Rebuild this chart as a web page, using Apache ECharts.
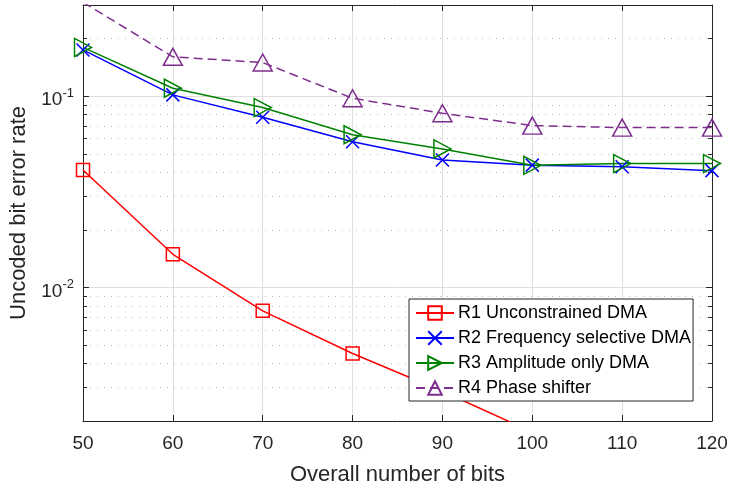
<!DOCTYPE html>
<html>
<head>
<meta charset="utf-8">
<script src="https://cdn.jsdelivr.net/npm/echarts@6/dist/echarts.min.js"></script>
<style>
  html, body { margin: 0; padding: 0; background: #fff; }
  #chart { width: 730px; height: 481px; }
</style>
</head>
<body>
<div id="chart"></div>
<script>
// Overall number of bits on the horizontal axis
const bits = [50, 60, 70, 80, 90, 100, 110, 120];

// Uncoded bit error rate for each configuration
const r1Unconstrained = [0.0411, 0.0149, 0.00754, 0.00451, 0.00286, 0.00175, null, null];
const r2FreqSelective = [0.1746, 0.1016, 0.0776, 0.0578, 0.0464, 0.0436, 0.0428, 0.0408];
const r3AmplitudeOnly = [0.180, 0.110, 0.0872, 0.0629, 0.0530, 0.0435, 0.0444, 0.0444];
const r4PhaseShifter = [0.31, 0.1607, 0.150, 0.0976, 0.0814, 0.0702, 0.0685, 0.0685];

const seriesNames = [
  'R1 Unconstrained DMA',
  'R2 Frequency selective DMA',
  'R3 Amplitude only DMA',
  'R4 Phase shifter'
];

// Log-axis range and tick positions
const yMin = 0.002;
const yMax = 0.3;
const majorTicks = [0.01, 0.1];
const minorTicks = [0.003, 0.004, 0.005, 0.006, 0.007, 0.008, 0.009,
                    0.02, 0.03, 0.04, 0.05, 0.06, 0.07, 0.08, 0.09, 0.2];

const FONT = '"Liberation Sans", Arial, Helvetica, sans-serif';
const AXIS_COLOR = '#262626';
const GRID_COLOR = '#dedede';
const MINOR_COLOR = '#bdbdbd';

const pair = arr => bits.map((b, i) => [b, arr[i]]);

const SYM_X = 'path://M0,0L10,10M10,0L0,10';
const SYM_RIGHT = 'path://M0,0L10,5L0,10Z';
const SYM_UP = 'path://M5,0L10,10L0,10Z';

function lineSeries(name, data, color, symbol, size, dashed) {
  return {
    name: name,
    type: 'line',
    data: pair(data),
    clip: true,
    connectNulls: false,
    symbol: symbol,
    symbolSize: size,
    showAllSymbol: true,
    itemStyle: { color: 'rgba(255,255,255,0)', borderColor: color, borderWidth: 1.5 },
    lineStyle: { color: color, width: 1.5, type: dashed ? [9, 5] : 'solid' },
    emphasis: { disabled: true },
    animation: false,
    z: 3
  };
}

const baseY = {
  type: 'log',
  logBase: 10,
  min: yMin,
  max: yMax,
  axisLine: { show: false },
  axisLabel: { show: false },
  splitLine: { show: false },
  minorTick: { show: false },
  minorSplitLine: { show: false }
};

const chart = echarts.init(document.getElementById('chart'), null, { renderer: 'canvas' });

chart.setOption({
  backgroundColor: '#ffffff',
  animation: false,
  textStyle: { fontFamily: FONT },
  grid: { left: 83, right: 18, top: 5, bottom: 60, containLabel: false, outerBoundsMode: 'none' },
  legend: {
    data: seriesNames,
    orient: 'vertical',
    left: 409,
    top: 299,
    padding: [5, 2, 4, 6],
    itemGap: 7,
    itemWidth: 38,
    itemHeight: 17,
    backgroundColor: '#ffffff',
    borderColor: AXIS_COLOR,
    borderWidth: 1,
    borderRadius: 0,
    textStyle: { fontFamily: FONT, fontSize: 18, color: '#000000', padding: [0, 0, 0, -1] }
  },
  xAxis: [
    {
      type: 'value',
      min: 50,
      max: 120,
      interval: 10,
      position: 'bottom',
      name: 'Overall number of bits',
      nameLocation: 'middle',
      nameGap: 43,
      nameTextStyle: { fontFamily: FONT, fontSize: 22, color: AXIS_COLOR },
      axisLine: { show: true, onZero: false, lineStyle: { color: AXIS_COLOR, width: 1 } },
      axisTick: { show: true, inside: true, length: 6, lineStyle: { color: AXIS_COLOR } },
      axisLabel: { fontFamily: FONT, fontSize: 19, color: AXIS_COLOR, margin: 13 },
      splitLine: { show: true, lineStyle: { color: GRID_COLOR, width: 1 } }
    },
    {
      type: 'value',
      min: 50,
      max: 120,
      interval: 10,
      position: 'top',
      axisLine: { show: true, onZero: false, lineStyle: { color: AXIS_COLOR, width: 1 } },
      axisTick: { show: true, inside: true, length: 6, lineStyle: { color: AXIS_COLOR } },
      axisLabel: { show: false },
      splitLine: { show: false }
    }
  ],
  yAxis: [
    Object.assign({}, baseY, {
      position: 'left',
      name: 'Uncoded bit error rate',
      nameLocation: 'middle',
      nameGap: 53,
      nameTextStyle: { fontFamily: FONT, fontSize: 22, color: AXIS_COLOR },
      axisLine: { show: true, onZero: false, lineStyle: { color: AXIS_COLOR, width: 1 } },
      axisTick: { show: true, inside: true, length: 6, customValues: majorTicks, lineStyle: { color: AXIS_COLOR } },
      axisLabel: {
        show: true,
        customValues: majorTicks,
        margin: 9,
        fontFamily: FONT,
        fontSize: 19,
        color: AXIS_COLOR,
        formatter: v => '{b|10}{s|' + Math.round(Math.log10(v)) + '}',
        rich: {
          b: { fontFamily: FONT, fontSize: 19, color: AXIS_COLOR, padding: [8, 0, 0, 0] },
          s: { fontFamily: FONT, fontSize: 13, color: AXIS_COLOR, padding: [0, 0, 6, 0] }
        }
      },
      splitLine: { show: true, lineStyle: { color: GRID_COLOR, width: 1 } }
    }),
    Object.assign({}, baseY, {
      position: 'left',
      axisTick: { show: true, inside: true, length: 4, customValues: minorTicks, lineStyle: { color: AXIS_COLOR } },
      splitLine: { show: true, lineStyle: { color: MINOR_COLOR, width: 1, type: [1, 6] } }
    }),
    Object.assign({}, baseY, {
      position: 'right',
      axisLine: { show: true, onZero: false, lineStyle: { color: AXIS_COLOR, width: 1 } },
      axisTick: { show: true, inside: true, length: 6, customValues: majorTicks, lineStyle: { color: AXIS_COLOR } }
    }),
    Object.assign({}, baseY, {
      position: 'right',
      axisTick: { show: true, inside: true, length: 4, customValues: minorTicks, lineStyle: { color: AXIS_COLOR } }
    })
  ],
  series: [
    lineSeries(seriesNames[0], r1Unconstrained, '#ff0000', 'rect', 13, false),
    lineSeries(seriesNames[1], r2FreqSelective, '#0000ff', SYM_X, 13, false),
    lineSeries(seriesNames[2], r3AmplitudeOnly, '#008000', SYM_RIGHT, [17, 18], false),
    lineSeries(seriesNames[3], r4PhaseShifter, '#7e2f8e', SYM_UP, [19, 17], true)
  ]
});
</script>
</body>
</html>
